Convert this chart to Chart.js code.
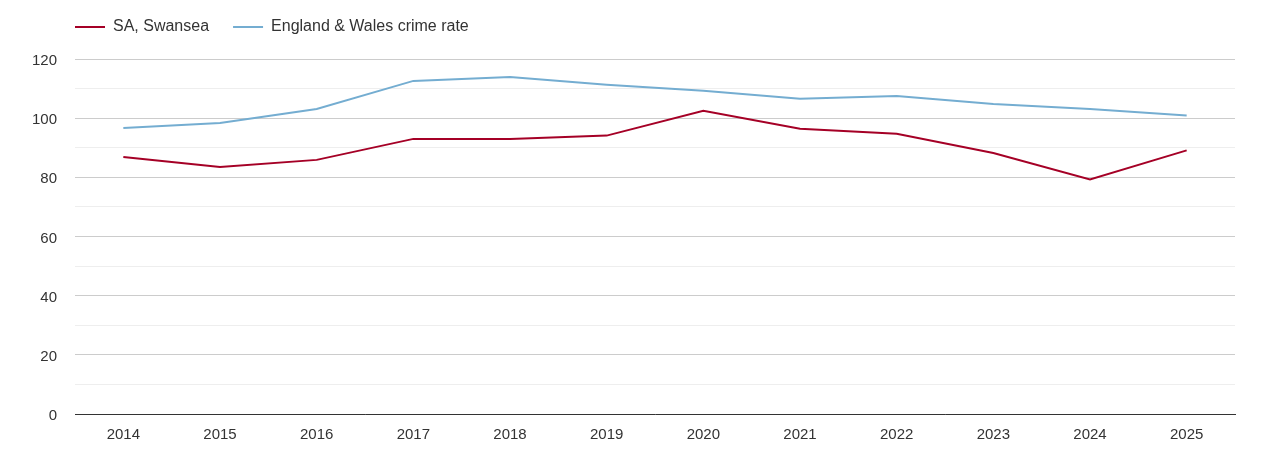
<!DOCTYPE html>
<html>

<head>
  <title>SA, Swansea crime rate</title>
  <script src="https://cdn.jsdelivr.net/npm/chart.js"></script>
  <style>
    body { margin: 0; background: #fff; }
    #wrap { width: 1270px; height: 450px; }
  </style>
</head>

<body>
  <div id="wrap"><canvas id="myChart"></canvas></div>
  <script>

    let years = ['2014', '2015', '2016', '2017', '2018', '2019', '2020', '2021', '2022', '2023', '2024', '2025'];
    let swansea = [86.9, 83.5, 85.9, 93.0, 93.0, 94.1, 102.5, 96.4, 94.7, 88.2, 79.3, 89.1];
    let englandWales = [96.7, 98.4, 103.1, 112.6, 113.9, 111.3, 109.3, 106.6, 107.5, 104.8, 103.1, 100.9];

    Chart.defaults.font.family = '"Liberation Sans", Arial, sans-serif';
    Chart.defaults.font.size = 15;
    Chart.defaults.color = '#333';

    let legendPad = 24;

    // nudge the legend so it lines up with the plot's left edge
    let legendNudge = {
      id: 'legendNudge',
      afterLayout(chart) {
        let lg = chart.legend;
        let dx = (75 - legendPad) - lg.left;
        let dy = -5 - lg.top;
        lg.left += dx; lg.right += dx;
        lg.top += dy; lg.bottom += dy;
      }
    };

    let ctx = document.getElementById('myChart').getContext('2d');
    let myChart = new Chart(ctx, {
      type: 'line',
      data: {
        labels: years,
        datasets: [{
          label: 'SA, Swansea',
          data: swansea,
          borderColor: '#a50026',
          backgroundColor: '#a50026',
          borderWidth: 2,
          pointRadius: 0,
          tension: 0,
          fill: false
        }, {
          label: 'England & Wales crime rate',
          data: englandWales,
          borderColor: '#74add1',
          backgroundColor: '#74add1',
          borderWidth: 2,
          pointRadius: 0,
          tension: 0,
          fill: false
        }]
      },
      options: {
        responsive: true,
        maintainAspectRatio: false,
        animation: false,
        layout: { padding: { left: 0, right: 35, top: 9, bottom: 0 } },
        plugins: {
          legend: {
            align: 'start',
            labels: { boxWidth: 30, boxHeight: 0, padding: legendPad, color: '#333', font: { size: 16 } }
          },
          tooltip: { enabled: false }
        },
        scales: {
          x: {
            offset: true,
            grid: { display: false, drawTicks: false },
            border: { display: true, color: '#333', width: 1 },
            ticks: { padding: 12, color: '#333' },
            afterFit: (s) => { s.height = 36; }
          },
          y: {
            min: 0,
            max: 120,
            ticks: {
              stepSize: 10,
              padding: 18,
              labelOffset: 2,
              color: '#333',
              callback: (v) => v % 20 === 0 ? v : ''
            },
            grid: {
              drawTicks: false,
              color: (c) => c.tick && c.tick.value % 20 === 0 ? '#cccccc' : '#eeeeee'
            },
            border: { display: false },
            afterFit: (s) => { s.width = 75; }
          }
        }
      },
      plugins: [legendNudge]
    });

  </script>
</body>

</html>
